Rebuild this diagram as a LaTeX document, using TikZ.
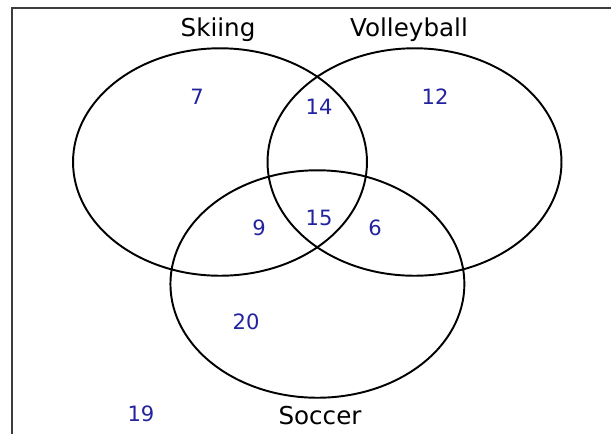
\documentclass[tikz,border=0pt]{standalone}
\usepackage{fontspec}
\setmainfont{DejaVu Sans}
\usetikzlibrary{shapes.geometric, positioning}
\definecolor{cNum}{RGB}{35,35,160}
\definecolor{cFrame}{RGB}{60,60,60}
\tikzset{
	setbox/.style   ={ellipse, draw=black, line width=1.1pt, inner sep=0pt, minimum width=5.88cm, minimum height=4.55cm},
	setname/.style  ={font=\fontsize{14}{16}\selectfont, text=black},
	count/.style    ={font=\fontsize{12}{14}\selectfont, text=cNum},
}
\begin{document}
\begin{tikzpicture}[x=0.02cm, y=-0.02cm]
	\useasboundingbox (0,0) rectangle (611,434);
	% frame (right and bottom edges lie outside the picture)
	\draw[cFrame, line width=1.1pt] (12,434) -- (12,8) -- (611,8);
	% the three sets
	\node[setbox] (ski)    at (220,162)   {};
	\node[setbox] (volley) at (414.5,162) {};
	\node[setbox] (soccer) at (317.4,284) {};
	\node[setname] (tski)    at (218,30)  {Skiing};
	\node[setname] (tvolley) at (409,30)  {Volleyball};
	\node[setname] (tsoccer) at (320,416) {Soccer};
	% counts
	\node[count] (n7)  at (197,97)  {7};
	\node[count] (n14) at (319,107) {14};
	\node[count] (n12) at (435,97)  {12};
	\node[count] (n9)  at (259,228) {9};
	\node[count] (n15) at (319,218) {15};
	\node[count] (n6)  at (375,228) {6};
	\node[count] (n20) at (246,322) {20};
	\node[count] (n19) at (141,414) {19};
\end{tikzpicture}
\end{document}
